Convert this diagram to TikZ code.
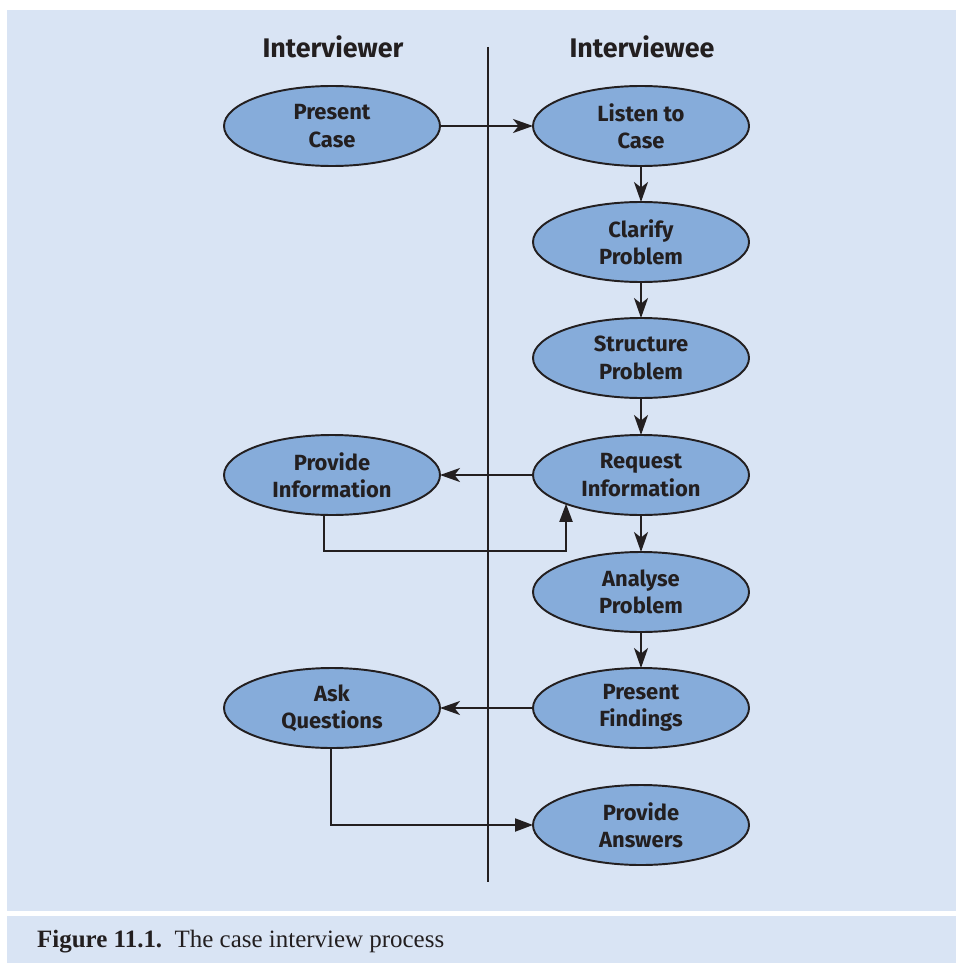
\documentclass[tikz,border=0pt]{standalone}
\usepackage{fontspec}
\setmainfont{Liberation Serif}
\setsansfont{Fira Sans}
\usepackage{tikz}
\usetikzlibrary{arrows.meta,positioning,calc,shapes.geometric}
\definecolor{panelblue}{HTML}{D9E4F4}
\definecolor{stepblue}{HTML}{86ACDA}
\definecolor{ink}{HTML}{231F20}
\tikzset{
  stepnode/.style={ellipse, draw=ink, fill=stepblue, line width=1.1pt,
    minimum width=4.32cm, minimum height=1.6cm, inner sep=0pt, outer sep=0pt,
    align=center, font=\sffamily\fontsize{12.5}{15.5}\selectfont\bfseries, text=ink},
  colhead/.style={font=\sffamily\fontsize{15.3}{18}\selectfont\bfseries, text=ink},
  flow/.style={-{Stealth[length=0.4cm, width=0.28cm, inset=0.11cm]}, line width=1.1pt, color=ink},
  flowtri/.style={-{Triangle[length=0.36cm, width=0.26cm]}, line width=1.1pt, color=ink},
  divider/.style={line width=1.1pt, color=ink},
}

\begin{document}
\begin{tikzpicture}[x=1cm,y=1cm]
  \useasboundingbox (0,0) rectangle (19.12,-19.26);
  % panels
  \fill[panelblue] (0.14,-0.2) rectangle (19.12,-18.22);
  \fill[panelblue] (0.14,-18.32) rectangle (19.12,-19.26);
  % column heads and the split
  \node[colhead] (hL) at (6.66,-0.94) {Interviewer};
  \node[colhead] (hR) at (12.84,-0.94) {Interviewee};
  \coordinate (dTop) at (9.76,-0.94);
  \coordinate (dBot) at (9.76,-17.64);
  \draw[divider] (dTop) -- (dBot);
  % interviewer side
  \node[stepnode] (PC) at (6.64,-2.52) {Present\\Case};
  \node[stepnode] (PI) at (6.64,-9.5) {Provide\\Information};
  \node[stepnode] (AQ) at (6.64,-14.16) {Ask\\Questions};
  % interviewee side
  \node[stepnode] (LC) at (12.82,-2.52) {Listen to\\Case};
  \node[stepnode] (CP) at (12.82,-4.84) {Clarify\\Problem};
  \node[stepnode] (SP) at (12.82,-7.16) {Structure\\Problem};
  \node[stepnode] (RI) at (12.82,-9.5) {Request\\Information};
  \node[stepnode] (AP) at (12.82,-11.84) {Analyse\\Problem};
  \node[stepnode] (PF) at (12.82,-14.16) {Present\\Findings};
  \node[stepnode] (PA) at (12.82,-16.5) {Provide\\Answers};
  % connectors
  \draw[flow] (PC) -- (LC);
  \draw[flow] (LC) -- (CP);
  \draw[flow] (CP) -- (SP);
  \draw[flow] (SP) -- (RI);
  \draw[flow] (RI) -- (AP);
  \draw[flow] (AP) -- (PF);
  \draw[flow] (RI) -- (PI);
  \draw[flow] (PF) -- (AQ);
  \draw[flowtri] ([xshift=-0.16cm]PI.south) -- ++(0,-0.72) -| (RI.201);
  \draw[flowtri] ([xshift=-0.02cm]AQ.south) |- (PA.west);
  % caption
  \node[anchor=west, font=\fontsize{14.2}{17}\selectfont, text=ink] (cap) at (0.62,-18.84)
    {\textbf{Figure 11.1.}\ \ The case interview process};
\end{tikzpicture}
\end{document}
